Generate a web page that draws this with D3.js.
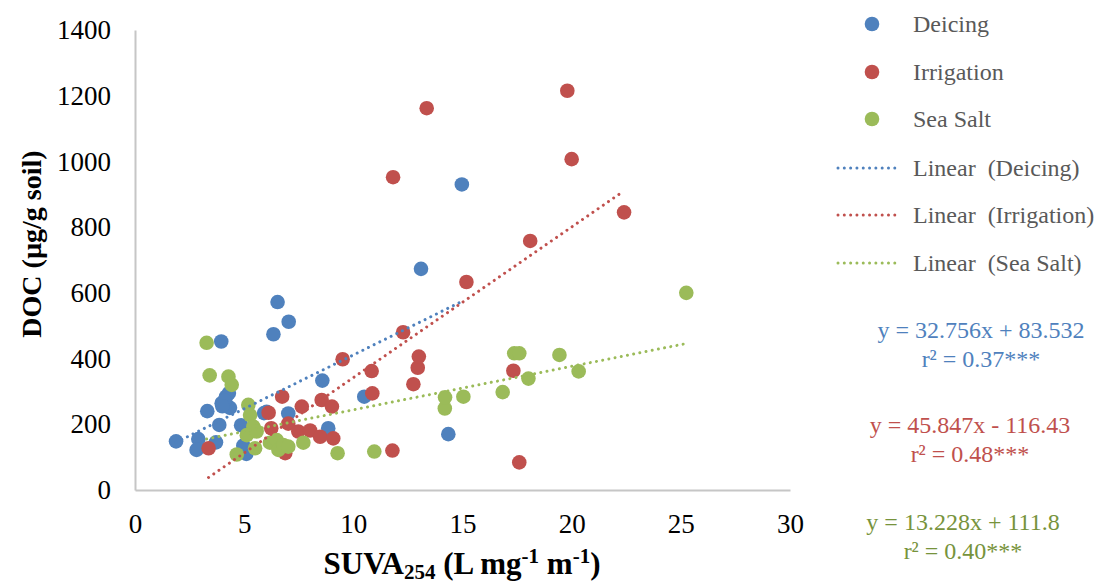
<!DOCTYPE html>
<html>
<head>
<meta charset="utf-8">
<script src="https://cdn.jsdelivr.net/npm/d3@7"></script>
<style>
  html, body { margin: 0; padding: 0; background: #fff; }
  svg { display: block; }
  text { font-family: "Liberation Serif", "Times New Roman", serif; }
</style>
</head>
<body>
<svg id="chart" width="1099" height="584"></svg>
<script>
// ---------- data ----------
const seriesNames = ["Deicing", "Irrigation", "Sea Salt"];

const deicingX = [1.88, 2.9, 2.82, 3.71, 3.31, 3.86, 3.95, 3.97, 4.17, 4.3, 4.35, 4.1, 4.0, 4.86, 4.96, 5.1, 5.91, 6.03, 6.34, 6.53, 7.04, 7.02, 8.58, 8.85, 10.5, 13.1, 14.97, 14.35];
const deicingY = [148, 155, 122, 145, 240, 198, 452, 264, 284, 295, 250, 272, 255, 197, 135, 110, 234, 238, 474, 572, 512, 233, 333, 188, 284, 673, 930, 170];

const irrigationX = [3.37, 6.12, 6.24, 6.74, 6.88, 7.02, 7.48, 7.64, 8.02, 8.48, 8.55, 9.02, 9.08, 9.51, 10.84, 10.87, 11.79, 11.82, 12.28, 12.75, 12.95, 13.0, 13.36, 15.18, 17.33, 17.6, 18.1, 19.8, 20.0, 22.4];
const irrigationY = [127, 235, 188, 284, 112, 202, 178, 254, 181, 162, 274, 254, 157, 398, 362, 294, 120, 952, 480, 322, 372, 406, 1162, 633, 363, 84, 758, 1215, 1007, 845];

const seaSaltX = [3.28, 3.42, 4.28, 4.43, 4.66, 5.19, 5.27, 5.42, 5.12, 5.57, 5.5, 6.18, 6.41, 6.49, 6.57, 6.79, 7.02, 7.71, 9.28, 10.96, 14.19, 14.2, 15.04, 16.84, 17.37, 17.6, 18.02, 19.44, 20.32, 25.25];
const seaSaltY = [448, 349, 345, 320, 108, 259, 228, 193, 167, 178, 127, 144, 142, 152, 122, 137, 132, 144, 112, 117, 248, 282, 284, 298, 416, 416, 339, 411, 361, 600];

const slopes = [32.756, 45.847, 13.228];
const intercepts = [83.532, -116.43, 111.8];
const equationLabels = ["y = 32.756x + 83.532", "y = 45.847x - 116.43", "y = 13.228x + 111.8"];
const r2Labels = ["r² = 0.37***", "r² = 0.48***", "r² = 0.40***"];
const legendLabels = ["Deicing", "Irrigation", "Sea Salt", "Linear  (Deicing)", "Linear  (Irrigation)", "Linear  (Sea Salt)"];

const xTicks = [0, 5, 10, 15, 20, 25, 30];
const yTicks = [0, 200, 400, 600, 800, 1000, 1200, 1400];

// ---------- style ----------
const colors = ["#4F81BD", "#C0504D", "#9BBB59"];
const eqColors = ["#4F81BD", "#C0504D", "#77933C"];

const svg = d3.select("#chart");
const mLeft = 135, mRight = 790, mTop = 30, mBottom = 490;

const x = d3.scaleLinear().domain([0, 30]).range([mLeft, mRight]);
const y = d3.scaleLinear().domain([0, 1400]).range([mBottom, mTop]);

// axes
const yAxis = d3.axisLeft(y).tickValues(yTicks).tickSize(0).tickPadding(24).tickFormat(d3.format("d"));
const xAxis = d3.axisBottom(x).tickValues(xTicks).tickSize(0).tickPadding(24).tickFormat(d3.format("d"));

const gy = svg.append("g").attr("transform", `translate(${mLeft},0)`).call(yAxis);
const gx = svg.append("g").attr("transform", `translate(0,${mBottom})`).call(xAxis);
[gx, gy].forEach(g => {
  g.select(".domain").attr("stroke", "#C6C6C6").attr("stroke-width", 2);
  g.selectAll("text").attr("fill", "#000").attr("font-size", 27)
    .attr("font-family", '"Liberation Serif", "Times New Roman", serif');
});

// series
const series = [
  { xs: deicingX, ys: deicingY },
  { xs: irrigationX, ys: irrigationY },
  { xs: seaSaltX, ys: seaSaltY }
];

series.forEach((s, i) => {
  const pts = s.xs.map((v, j) => [v, s.ys[j]]);
  svg.append("g").selectAll("circle").data(pts).join("circle")
    .attr("cx", d => x(d[0])).attr("cy", d => y(d[1]))
    .attr("r", 7.3).attr("fill", colors[i]);
});

// trend lines
series.forEach((s, i) => {
  const [x0, x1] = d3.extent(s.xs);
  const f = v => slopes[i] * v + intercepts[i];
  svg.append("line")
    .attr("x1", x(x0)).attr("y1", y(f(x0)))
    .attr("x2", x(x1)).attr("y2", y(f(x1)))
    .attr("stroke", colors[i]).attr("stroke-width", 3)
    .attr("stroke-linecap", "round").attr("stroke-dasharray", "0.01 6.3");
});

// axis titles
svg.append("text")
  .attr("transform", "translate(31,244) rotate(-90)")
  .attr("text-anchor", "middle").attr("dominant-baseline", "central")
  .attr("font-size", 28).attr("font-weight", "bold").attr("fill", "#000")
  .text("DOC (µg/g soil)");

const xt = svg.append("text")
  .attr("x", 462).attr("y", 574)
  .attr("text-anchor", "middle")
  .attr("font-size", 31).attr("font-weight", "bold").attr("fill", "#000");
xt.append("tspan").text("SUVA");
xt.append("tspan").attr("font-size", 21).attr("dy", 5).text("254");
xt.append("tspan").attr("dy", -5).text(" (L mg");
xt.append("tspan").attr("font-size", 21).attr("dy", -11).text("-1");
xt.append("tspan").attr("dy", 11).text(" m");
xt.append("tspan").attr("font-size", 21).attr("dy", -11).text("-1");
xt.append("tspan").attr("dy", 11).text(")");

// legend
const legendY = [24, 72, 119, 168, 215, 263];
const lg = svg.append("g");
legendLabels.forEach((lab, k) => {
  const ci = k % 3;
  if (k < 3) {
    lg.append("circle").attr("cx", 872).attr("cy", legendY[k]).attr("r", 7.3).attr("fill", colors[ci]);
  } else {
    lg.append("line").attr("x1", 838).attr("x2", 901)
      .attr("y1", legendY[k]).attr("y2", legendY[k])
      .attr("stroke", colors[ci]).attr("stroke-width", 3)
      .attr("stroke-linecap", "round").attr("stroke-dasharray", "0.01 6.3");
  }
  lg.append("text").attr("x", 913).attr("y", legendY[k])
    .attr("dominant-baseline", "central")
    .attr("font-size", 24).attr("fill", "#595959")
    .style("white-space", "pre")
    .text(lab);
});

// equations
const eqCx = [981, 970, 963];
const eqY = [338, 433, 530];
equationLabels.forEach((lab, i) => {
  svg.append("text").attr("x", eqCx[i]).attr("y", eqY[i])
    .attr("text-anchor", "middle").attr("font-size", 24).attr("fill", eqColors[i])
    .text(lab);
  svg.append("text").attr("x", eqCx[i]).attr("y", eqY[i] + 29)
    .attr("text-anchor", "middle").attr("font-size", 24).attr("fill", eqColors[i])
    .text(r2Labels[i]);
});
</script>
</body>
</html>
